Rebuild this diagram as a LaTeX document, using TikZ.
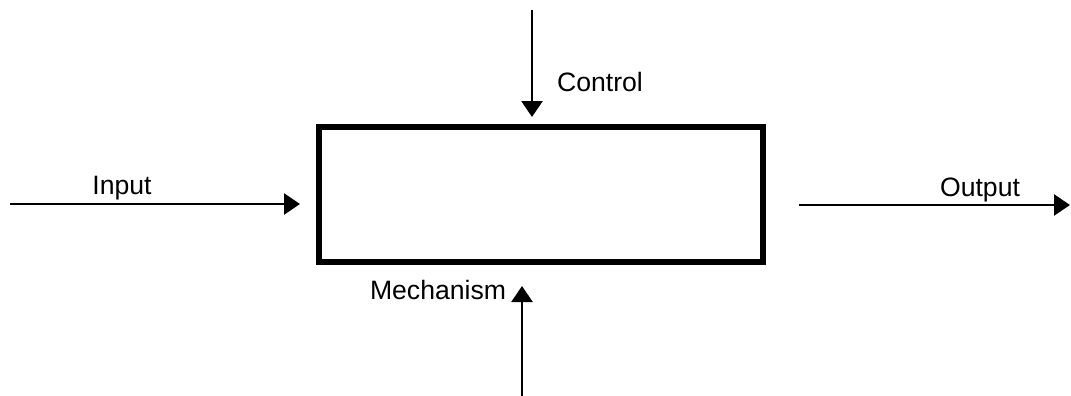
\documentclass[tikz,border=0pt]{standalone}
\usepackage{fontspec}
\setmainfont{Liberation Sans}
\usetikzlibrary{arrows.meta}
\begin{document}
\begin{tikzpicture}[x=0.5pt,y=-0.5pt,
  lbl/.style={inner sep=0pt,font=\fontsize{13.3}{16}\selectfont},
  arr/.style={line width=1.3pt,-{Triangle[width=10.5pt,length=8pt]}},
  funcbox/.style={draw,line width=3pt,minimum width=222pt,minimum height=67.5pt,inner sep=0pt}]
\useasboundingbox (0,0) rectangle (1071,396);
\node[funcbox] (box) at (540.5,194) {};
\coordinate (cin) at (10,204);
\coordinate (cout) at (1070,205);
\coordinate (ctop) at (532,10);
\coordinate (cbot) at (522,396);
\coordinate (cinend) at (300,204);
\coordinate (coutstart) at (799,205);
\coordinate (ctopend) at (532,117);
\coordinate (cbotend) at (522,286);
\draw[arr] (cin) -- (cinend);
\draw[arr] (coutstart) -- (cout);
\draw[arr] (ctop) -- (ctopend);
\draw[arr] (cbot) -- (cbotend);
\node[lbl] (tin) at (122,188) {Input};
\node[lbl] (tout) at (980,190) {Output};
\node[lbl] (tctl) at (600,82) {Control};
\node[lbl] (tmech) at (438,290) {Mechanism};
\end{tikzpicture}
\end{document}
